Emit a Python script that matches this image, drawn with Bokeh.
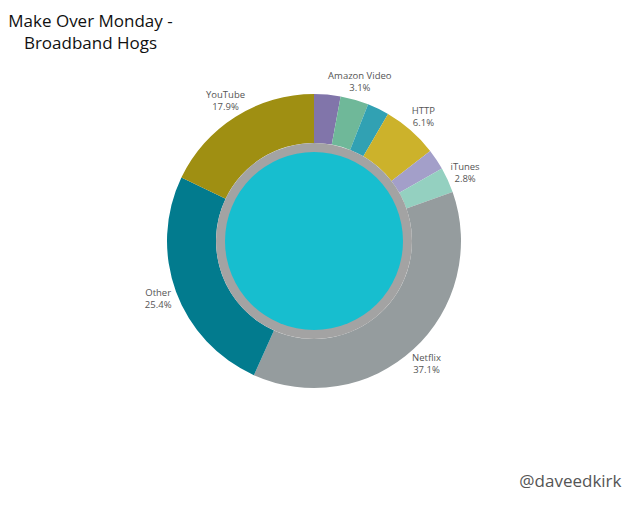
import numpy as np
from bokeh.plotting import figure
from bokeh.models import Range1d, ColumnDataSource
from bokeh.core.properties import value
from bokeh.embed import file_html
from bokeh.resources import INLINE

# Data (clockwise from 12 o'clock)
categories = ["Unlabeled A", "Amazon Video", "Unlabeled B", "HTTP", "Unlabeled C",
              "iTunes", "Netflix", "Other", "YouTube"]
shares = [2.9, 3.1, 2.4, 6.1, 2.3, 2.8, 37.1, 25.4, 17.9]
show_label = [False, True, False, True, False, True, True, True, True]
colors = ["#8175aa", "#6fb899", "#31a1b3", "#ccb22b", "#a39fc9",
          "#94d0c0", "#959c9e", "#027b8e", "#9f8f12"]

title_lines = ["Make Over Monday -", "Broadband Hogs"]
credit = "@daveedkirk"

W, H = 624, 492
p = figure(width=W, height=H, output_backend="svg", toolbar_location=None,
           x_range=Range1d(0, 624), y_range=Range1d(16, 508),
           min_border=0, outline_line_color=None)
p.axis.visible = False
p.grid.visible = False
p.background_fill_color = "white"
p.border_fill_color = "white"

def py(y):
    return 508 - y

cx, cy = 313.5, py(240.5)
R_out, R_in, R_ring, R_core = 147, 98, 98, 89

sh = np.array(shares, dtype=float)
frac = sh / sh.sum()
cum = np.concatenate([[0], np.cumsum(frac)])
a0_cw = cum[:-1] * 360.0
a1_cw = cum[1:] * 360.0
start = np.deg2rad(90 - a1_cw)
end = np.deg2rad(90 - a0_cw)

src = ColumnDataSource(dict(start=start, end=end, color=colors, cat=categories))
p.annular_wedge(x=cx, y=cy, inner_radius=R_in, outer_radius=R_out,
                start_angle="start", end_angle="end", color="color",
                line_color=None, source=src)
p.circle(x=[cx], y=[cy], radius=R_ring, fill_color="#a3a3a3", line_color=None)
p.circle(x=[cx], y=[cy], radius=R_core, fill_color="#17becf", line_color=None)

# Labels
mid = np.deg2rad((a0_cw + a1_cw) / 2)
rl = 166
lx, ly1, ly2, names, pcts = [], [], [], [], []
for i, c in enumerate(categories):
    if not show_label[i]:
        continue
    x = cx + rl * np.sin(mid[i])
    y = cy + rl * np.cos(mid[i])
    lx.append(x)
    ly1.append(y + 6)
    ly2.append(y - 6)
    names.append(c)
    pcts.append(f"{shares[i]:.1f}%")

p.text(x=lx, y=ly1, text=names, text_align="center", text_baseline="middle",
       text_font=value("Open Sans"), text_font_size="9.5px", text_color="#555555")
p.text(x=lx, y=ly2, text=pcts, text_align="center", text_baseline="middle",
       text_font=value("Open Sans"), text_font_size="9.5px", text_color="#555555")

p.text(x=[90, 90], y=[py(20), py(42)], text=title_lines, text_align="center",
       text_baseline="middle", text_font=value("Open Sans"), text_font_size="17px",
       text_color="#111111")
p.text(x=[621], y=[py(480)], text=[credit], text_align="right", text_baseline="middle",
       text_font=value("Open Sans"), text_font_size="17px", text_color="#555555")

open("out.html", "w").write(file_html(p, INLINE))
